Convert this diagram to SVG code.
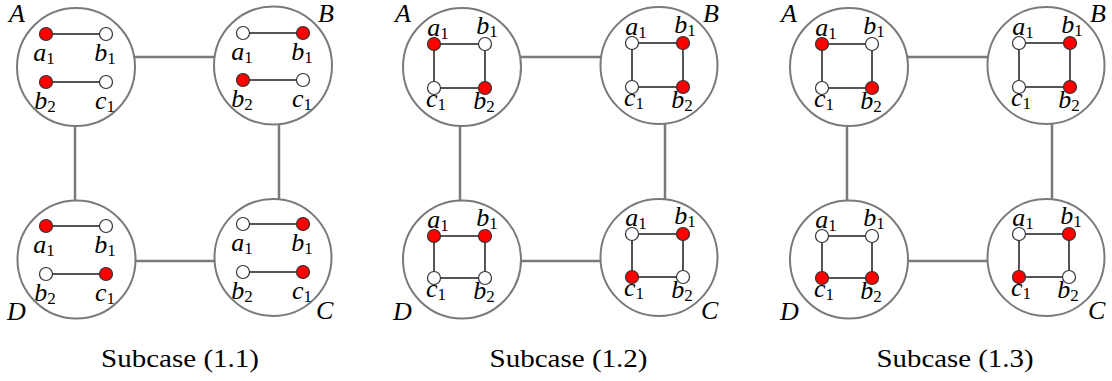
<svg xmlns="http://www.w3.org/2000/svg" width="1112" height="381" viewBox="0 0 1112 381">
<style>
.big{fill:none;stroke:#7a7a7a;stroke-width:2}
.conn{stroke:#7a7a7a;stroke-width:2.5;fill:none}
.e{stroke:#555;stroke-width:2;fill:none}
.r{fill:#f00;stroke:#333;stroke-width:1.2}
.w{fill:#fff;stroke:#333;stroke-width:1.2}
.lbl{font-family:"Liberation Serif",serif;font-style:italic;font-size:26px;fill:#000}
.l{font-family:"Liberation Serif",serif;font-style:italic;font-size:26px;fill:#000;text-anchor:middle}
.sub{font-style:normal;font-size:17px}
.cap{font-family:"Liberation Serif",serif;font-size:26px;fill:#000;text-anchor:middle}
</style>
<rect width="1112" height="381" fill="#fff"/>

<g id="connectors">
<line class="conn" x1="134" y1="57" x2="215" y2="57"/>
<line class="conn" x1="75" y1="126" x2="75" y2="201"/>
<line class="conn" x1="279" y1="124" x2="279" y2="199"/>
<line class="conn" x1="135" y1="261" x2="215" y2="261"/>

<line class="conn" x1="520" y1="57" x2="601" y2="57"/>
<line class="conn" x1="460" y1="126" x2="460" y2="201"/>
<line class="conn" x1="665" y1="124" x2="665" y2="199"/>
<line class="conn" x1="521" y1="261" x2="601" y2="261"/>

<line class="conn" x1="907" y1="57" x2="988" y2="57"/>
<line class="conn" x1="847" y1="126" x2="847" y2="201"/>
<line class="conn" x1="1052" y1="124" x2="1052" y2="199"/>
<line class="conn" x1="907" y1="261" x2="988" y2="261"/>
</g>

<!-- Subcase 1.1 -->
<g id="s1-A">
<circle class="big" cx="76" cy="67" r="59"/>
<line class="e" x1="46" y1="34" x2="106" y2="34"/>
<line class="e" x1="46" y1="82" x2="106" y2="82"/>
<circle class="r" cx="46" cy="34" r="6.5"/><circle class="w" cx="106" cy="34" r="6.5"/>
<circle class="r" cx="46" cy="82" r="6.5"/><circle class="w" cx="106" cy="82" r="6.5"/>
<text class="l" x="44" y="61">a<tspan class="sub" dy="3">1</tspan></text>
<text class="l" x="105" y="61">b<tspan class="sub" dy="3">1</tspan></text>
<text class="l" x="45" y="109">b<tspan class="sub" dy="3">2</tspan></text>
<text class="l" x="105" y="109">c<tspan class="sub" dy="3">1</tspan></text>
<text class="lbl" x="9" y="22">A</text>
</g>
<g id="s1-B">
<circle class="big" cx="273" cy="65.5" r="59"/>
<line class="e" x1="243" y1="33" x2="303" y2="33"/>
<line class="e" x1="243" y1="80" x2="303" y2="80"/>
<circle class="w" cx="243" cy="33" r="6.5"/><circle class="r" cx="303" cy="33" r="6.5"/>
<circle class="r" cx="243" cy="80" r="6.5"/><circle class="w" cx="303" cy="80" r="6.5"/>
<text class="l" x="242" y="60">a<tspan class="sub" dy="3">1</tspan></text>
<text class="l" x="302" y="60">b<tspan class="sub" dy="3">1</tspan></text>
<text class="l" x="242" y="107">b<tspan class="sub" dy="3">2</tspan></text>
<text class="l" x="302" y="107">c<tspan class="sub" dy="3">1</tspan></text>
<text class="lbl" x="318" y="22">B</text>
</g>
<g id="s1-D">
<circle class="big" cx="76.5" cy="259.5" r="59"/>
<line class="e" x1="46" y1="226" x2="106" y2="226"/>
<line class="e" x1="46" y1="274" x2="106" y2="274"/>
<circle class="r" cx="46" cy="226" r="6.5"/><circle class="w" cx="106" cy="226" r="6.5"/>
<circle class="w" cx="46" cy="274" r="6.5"/><circle class="r" cx="106" cy="274" r="6.5"/>
<text class="l" x="44" y="253">a<tspan class="sub" dy="3">1</tspan></text>
<text class="l" x="105" y="253">b<tspan class="sub" dy="3">1</tspan></text>
<text class="l" x="45" y="301">b<tspan class="sub" dy="3">2</tspan></text>
<text class="l" x="105" y="301">c<tspan class="sub" dy="3">1</tspan></text>
<text class="lbl" x="7" y="320">D</text>
</g>
<g id="s1-C">
<circle class="big" cx="273" cy="257.5" r="58.5"/>
<line class="e" x1="243" y1="224" x2="303" y2="224"/>
<line class="e" x1="243" y1="272" x2="303" y2="272"/>
<circle class="w" cx="243" cy="224" r="6.5"/><circle class="r" cx="303" cy="224" r="6.5"/>
<circle class="w" cx="243" cy="272" r="6.5"/><circle class="r" cx="303" cy="272" r="6.5"/>
<text class="l" x="242" y="251">a<tspan class="sub" dy="3">1</tspan></text>
<text class="l" x="302" y="251">b<tspan class="sub" dy="3">1</tspan></text>
<text class="l" x="242" y="299">b<tspan class="sub" dy="3">2</tspan></text>
<text class="l" x="302" y="299">c<tspan class="sub" dy="3">1</tspan></text>
<text class="lbl" x="316" y="319">C</text>
</g>
<text class="cap" x="180" y="367" textLength="158" lengthAdjust="spacingAndGlyphs">Subcase (1.1)</text>

<!-- Subcase 1.2 -->
<g id="s2-A">
<circle class="big" cx="462" cy="67" r="59"/>
<polygon class="e" points="434,44 485,44 485,88 434,88"/>
<circle class="r" cx="434" cy="44" r="6.5"/><circle class="w" cx="485" cy="44" r="6.5"/>
<circle class="w" cx="434" cy="88" r="6.5"/><circle class="r" cx="485" cy="88" r="6.5"/>
<text class="l" x="438" y="36">a<tspan class="sub" dy="3">1</tspan></text>
<text class="l" x="487" y="34">b<tspan class="sub" dy="3">1</tspan></text>
<text class="l" x="436" y="107">c<tspan class="sub" dy="3">1</tspan></text>
<text class="l" x="484" y="109">b<tspan class="sub" dy="3">2</tspan></text>
<text class="lbl" x="395" y="22">A</text>
</g>
<g id="s2-B">
<circle class="big" cx="659" cy="65.5" r="58.5"/>
<polygon class="e" points="632,43 683,43 683,87 632,87"/>
<circle class="w" cx="632" cy="43" r="6.5"/><circle class="r" cx="683" cy="43" r="6.5"/>
<circle class="w" cx="632" cy="87" r="6.5"/><circle class="r" cx="683" cy="87" r="6.5"/>
<text class="l" x="636" y="35">a<tspan class="sub" dy="3">1</tspan></text>
<text class="l" x="685" y="33">b<tspan class="sub" dy="3">1</tspan></text>
<text class="l" x="634" y="106">c<tspan class="sub" dy="3">1</tspan></text>
<text class="l" x="682" y="108">b<tspan class="sub" dy="3">2</tspan></text>
<text class="lbl" x="703" y="22">B</text>
</g>
<g id="s2-D">
<circle class="big" cx="462" cy="259.5" r="59"/>
<polygon class="e" points="434,236 485,236 485,278 434,278"/>
<circle class="r" cx="434" cy="236" r="6.5"/><circle class="r" cx="485" cy="236" r="6.5"/>
<circle class="w" cx="434" cy="278" r="6.5"/><circle class="w" cx="485" cy="278" r="6.5"/>
<text class="l" x="438" y="228">a<tspan class="sub" dy="3">1</tspan></text>
<text class="l" x="487" y="226">b<tspan class="sub" dy="3">1</tspan></text>
<text class="l" x="436" y="297">c<tspan class="sub" dy="3">1</tspan></text>
<text class="l" x="484" y="299">b<tspan class="sub" dy="3">2</tspan></text>
<text class="lbl" x="393" y="320">D</text>
</g>
<g id="s2-C">
<circle class="big" cx="659" cy="257.5" r="58.5"/>
<polygon class="e" points="632,234 683,234 683,277 632,277"/>
<circle class="w" cx="632" cy="234" r="6.5"/><circle class="r" cx="683" cy="234" r="6.5"/>
<circle class="r" cx="632" cy="277" r="6.5"/><circle class="w" cx="683" cy="277" r="6.5"/>
<text class="l" x="636" y="226">a<tspan class="sub" dy="3">1</tspan></text>
<text class="l" x="685" y="224">b<tspan class="sub" dy="3">1</tspan></text>
<text class="l" x="634" y="296">c<tspan class="sub" dy="3">1</tspan></text>
<text class="l" x="682" y="298">b<tspan class="sub" dy="3">2</tspan></text>
<text class="lbl" x="701" y="319">C</text>
</g>
<text class="cap" x="568.5" y="367" textLength="158" lengthAdjust="spacingAndGlyphs">Subcase (1.2)</text>

<!-- Subcase 1.3 -->
<g id="s3-A">
<circle class="big" cx="849" cy="67" r="59"/>
<polygon class="e" points="822,44 872,44 872,88 822,88"/>
<circle class="r" cx="822" cy="44" r="6.5"/><circle class="w" cx="872" cy="44" r="6.5"/>
<circle class="w" cx="822" cy="88" r="6.5"/><circle class="r" cx="872" cy="88" r="6.5"/>
<text class="l" x="826" y="36">a<tspan class="sub" dy="3">1</tspan></text>
<text class="l" x="874" y="34">b<tspan class="sub" dy="3">1</tspan></text>
<text class="l" x="824" y="107">c<tspan class="sub" dy="3">1</tspan></text>
<text class="l" x="871" y="109">b<tspan class="sub" dy="3">2</tspan></text>
<text class="lbl" x="781" y="22">A</text>
</g>
<g id="s3-B">
<circle class="big" cx="1046" cy="65.5" r="58.5"/>
<polygon class="e" points="1019,43 1070,43 1070,87 1019,87"/>
<circle class="w" cx="1019" cy="43" r="6.5"/><circle class="r" cx="1070" cy="43" r="6.5"/>
<circle class="w" cx="1019" cy="87" r="6.5"/><circle class="r" cx="1070" cy="87" r="6.5"/>
<text class="l" x="1023" y="35">a<tspan class="sub" dy="3">1</tspan></text>
<text class="l" x="1072" y="33">b<tspan class="sub" dy="3">1</tspan></text>
<text class="l" x="1021" y="106">c<tspan class="sub" dy="3">1</tspan></text>
<text class="l" x="1069" y="108">b<tspan class="sub" dy="3">2</tspan></text>
<text class="lbl" x="1090" y="22">B</text>
</g>
<g id="s3-D">
<circle class="big" cx="849" cy="259.5" r="59"/>
<polygon class="e" points="822,236 872,236 872,278 822,278"/>
<circle class="w" cx="822" cy="236" r="6.5"/><circle class="w" cx="872" cy="236" r="6.5"/>
<circle class="r" cx="822" cy="278" r="6.5"/><circle class="r" cx="872" cy="278" r="6.5"/>
<text class="l" x="826" y="228">a<tspan class="sub" dy="3">1</tspan></text>
<text class="l" x="874" y="226">b<tspan class="sub" dy="3">1</tspan></text>
<text class="l" x="824" y="297">c<tspan class="sub" dy="3">1</tspan></text>
<text class="l" x="871" y="299">b<tspan class="sub" dy="3">2</tspan></text>
<text class="lbl" x="780" y="320">D</text>
</g>
<g id="s3-C">
<circle class="big" cx="1046" cy="257.5" r="58.5"/>
<polygon class="e" points="1019,234 1069,234 1069,277 1019,277"/>
<circle class="w" cx="1019" cy="234" r="6.5"/><circle class="r" cx="1069" cy="234" r="6.5"/>
<circle class="r" cx="1019" cy="277" r="6.5"/><circle class="w" cx="1069" cy="277" r="6.5"/>
<text class="l" x="1023" y="226">a<tspan class="sub" dy="3">1</tspan></text>
<text class="l" x="1071" y="224">b<tspan class="sub" dy="3">1</tspan></text>
<text class="l" x="1021" y="296">c<tspan class="sub" dy="3">1</tspan></text>
<text class="l" x="1068" y="298">b<tspan class="sub" dy="3">2</tspan></text>
<text class="lbl" x="1088" y="319">C</text>
</g>
<text class="cap" x="955" y="367" textLength="157" lengthAdjust="spacingAndGlyphs">Subcase (1.3)</text>
</svg>
